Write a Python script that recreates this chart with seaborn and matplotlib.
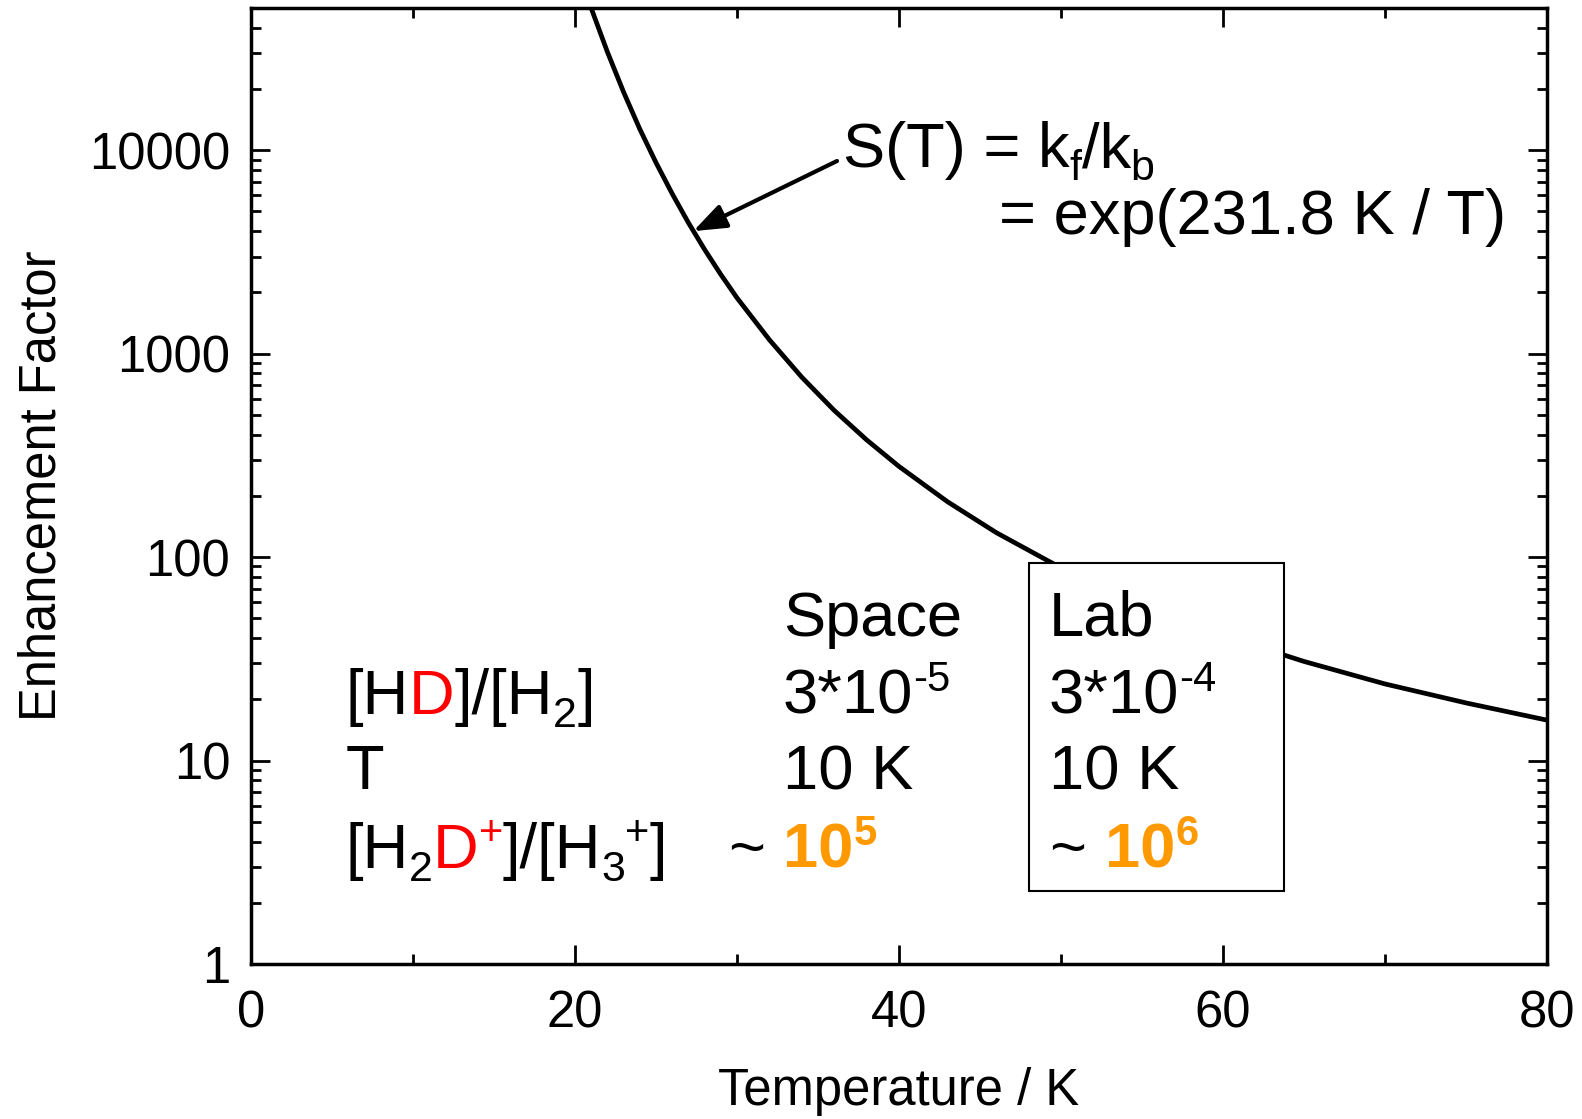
import matplotlib
matplotlib.use("Agg")
import matplotlib.pyplot as plt
import matplotlib.ticker as mticker
from matplotlib.patches import Rectangle
import pandas as pd
import seaborn as sns

# values, S(T) = kf/kb
temperature = [20.5, 21, 22, 23, 24, 25, 26, 27, 28, 29, 30, 32, 34, 36, 38, 40,
               43, 46, 50, 55, 60, 65, 70, 75, 80]
enhancement = [65100, 49900, 30400, 19300, 12700, 8690, 6110, 4400, 3250, 2450, 1880,
               1170, 766, 526, 377, 279, 187, 132, 88.5, 58.3, 41.2, 30.7, 23.8, 19.2, 15.8]

x_ticks = [0, 20, 40, 60, 80]
y_ticks = [1, 10, 100, 1000, 10000]
y_tick_labels = ["1", "10", "100", "1000", "10000"]

RED = "#ff0000"
ORANGE = "#ff9900"

# text pieces: (text, color, weight, kind) with kind in n / sub / sup
row_names = [
    [("[H", "k", "normal", "n"), ("D", RED, "normal", "n"), ("]/[H", "k", "normal", "n"),
     ("2", "k", "normal", "sub"), ("]", "k", "normal", "n")],
    [("T", "k", "normal", "n")],
    [("[H", "k", "normal", "n"), ("2", "k", "normal", "sub"), ("D", RED, "normal", "n"),
     ("+", RED, "normal", "sup"), ("]/[H", "k", "normal", "n"), ("3", "k", "normal", "sub"),
     ("+", "k", "normal", "sup"), ("]", "k", "normal", "n")],
]
space_values = [
    [("3*10", "k", "normal", "n"), ("-5", "k", "normal", "sup")],
    [("10 K", "k", "normal", "n")],
    [("10", ORANGE, "bold", "n"), ("5", ORANGE, "bold", "sup")],
]
lab_values = [
    [("3*10", "k", "normal", "n"), ("-4", "k", "normal", "sup")],
    [("10 K", "k", "normal", "n")],
    [("10", ORANGE, "bold", "n"), ("6", ORANGE, "bold", "sup")],
]

W, H = 1582, 1119
FS = 45.5

sns.set_style("ticks")
plt.rcParams["font.family"] = ["Liberation Sans", "DejaVu Sans"]
plt.rcParams["text.color"] = "black"
plt.rcParams["axes.labelcolor"] = "black"
plt.rcParams["xtick.color"] = "black"
plt.rcParams["ytick.color"] = "black"

df = pd.DataFrame({"T": temperature, "S": enhancement})

fig = plt.figure(figsize=(W / 100, H / 100), dpi=100)
ax = fig.add_axes([251 / W, 1 - 964 / H, (1547 - 251) / W, (964 - 8) / H])

sns.lineplot(data=df, x="T", y="S", color="black", lw=3.4, ax=ax, zorder=2)

ax.set_yscale("log")
ax.set_xlim(0, 80)
ax.set_ylim(1, 5e4)
ax.set_xticks(x_ticks)
ax.xaxis.set_minor_locator(mticker.MultipleLocator(10))
ax.set_yticks(y_ticks)
ax.set_yticklabels(y_tick_labels)
ax.yaxis.set_minor_locator(mticker.LogLocator(base=10, subs=range(2, 10)))
ax.yaxis.set_minor_formatter(mticker.NullFormatter())

for side in ["left", "right", "top", "bottom"]:
    ax.spines[side].set_linewidth(2.5)
    ax.spines[side].set_color("black")

ax.tick_params(which="both", direction="in", top=True, right=True, width=2, color="black")
ax.tick_params(which="major", length=14)
ax.tick_params(which="minor", length=7)
ax.tick_params(axis="x", which="major", labelsize=36.5, pad=18, labelcolor="black")
ax.tick_params(axis="y", which="major", labelsize=36.5, pad=15, labelcolor="black")

ax.set_xlabel("Temperature / K", fontsize=36.5, labelpad=21, color="black")
ax.set_ylabel("Enhancement Factor", fontsize=36.5, labelpad=16, color="black")

# arrow pointing at the curve
ax.annotate("", xy=(27.3, 4000), xytext=(837 / W, 1 - 161 / H), textcoords="figure fraction",
            arrowprops=dict(arrowstyle="-|>,head_length=0.8,head_width=0.3", lw=3,
                            color="black", mutation_scale=25, shrinkA=0, shrinkB=0))

# white box for the lab column, covering the curve
fig.patches.append(Rectangle((1029 / W, 1 - 891 / H), (1284 - 1029) / W, (891 - 563) / H,
                             transform=fig.transFigure, facecolor="white", edgecolor="black",
                             lw=1.5, zorder=3))

renderer = fig.canvas.get_renderer()


def put_text(x, y, parts, size=FS):
    # x, y in pixels from the top-left corner, y is the baseline
    em = size * 100 / 72
    for s, color, weight, kind in parts:
        fs, dy = size, 0
        if kind == "sub":
            fs, dy = size * 0.68, 0.2 * em
        elif kind == "sup":
            fs, dy = size * 0.66, -0.36 * em
        t = fig.text(x / W, 1 - (y + dy) / H, s, color=color, fontweight=weight, fontsize=fs,
                     ha="left", va="baseline", zorder=4)
        x += t.get_window_extent(renderer).width


put_text(843, 167, [("S(T) = k", "k", "normal", "n"), ("f", "k", "normal", "sub"),
                    ("/k", "k", "normal", "n"), ("b", "k", "normal", "sub")])
put_text(999, 234, [("= exp(231.8 K / T)", "k", "normal", "n")])

rows_y = [636, 714, 789, 868]
put_text(783, rows_y[0], [("Space", "k", "normal", "n")])
put_text(1049, rows_y[0], [("Lab", "k", "normal", "n")])
for i in range(3):
    put_text(346, rows_y[i + 1], row_names[i])
    put_text(783, rows_y[i + 1], space_values[i])
    if i < 2:
        put_text(1049, rows_y[i + 1], lab_values[i])
    else:
        put_text(1105, rows_y[i + 1], lab_values[i])

put_text(728, rows_y[3], [("~", "k", "normal", "n")])
put_text(1049, rows_y[3], [("~", "k", "normal", "n")])

fig.savefig("out.png", dpi=100)
